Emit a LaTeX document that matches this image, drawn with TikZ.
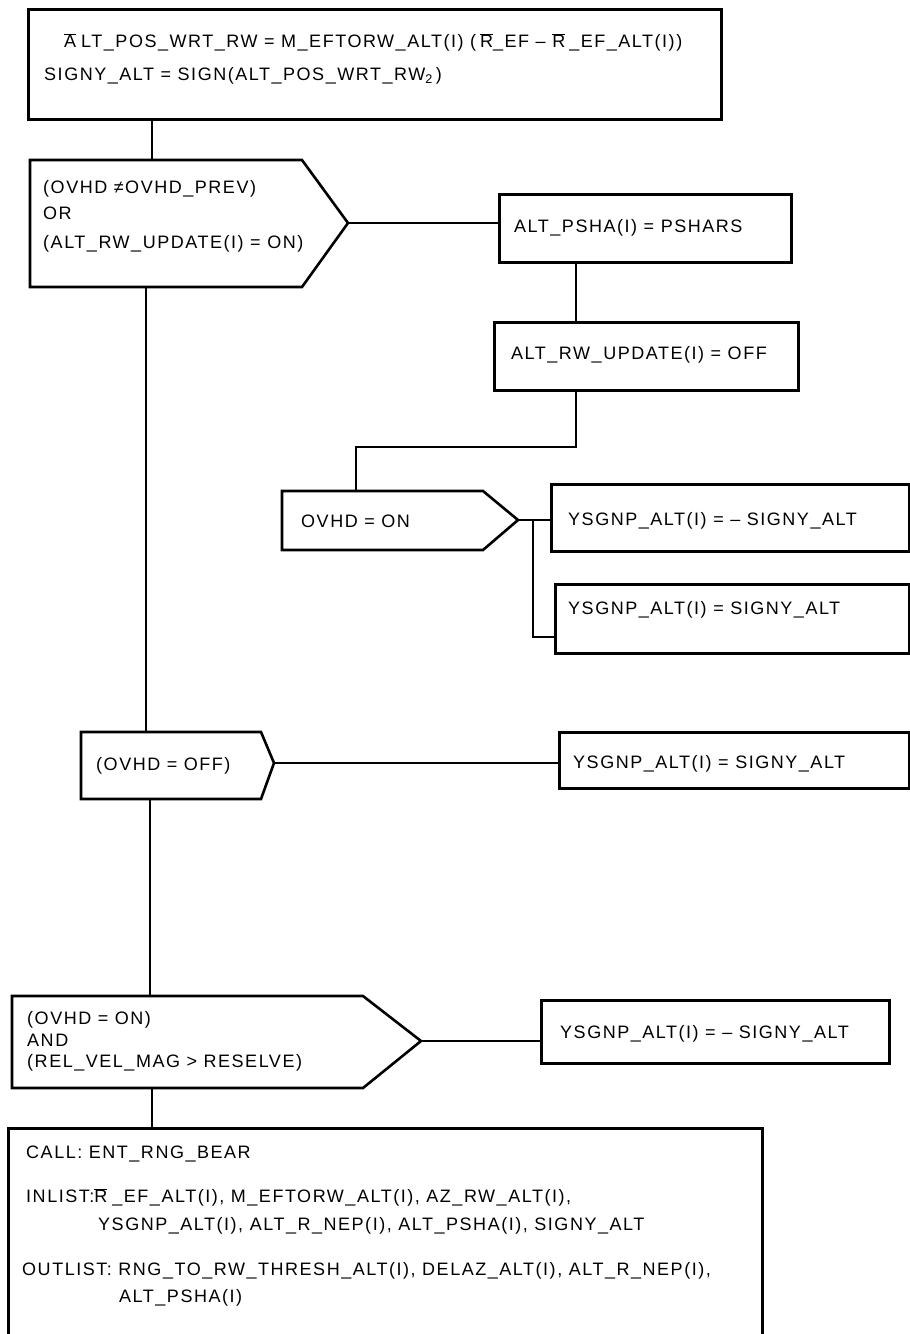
\documentclass[tikz,border=0pt]{standalone}
\usepackage{fontspec}
\setmainfont{Liberation Sans}[LetterSpace=8.5]
\newcommand\ovl[1]{\ensuremath{\overline{\mbox{#1}}}}
\begin{document}
\begin{tikzpicture}[x=1pt,y=-1pt,line join=miter,
  box/.style={draw,line width=2.6pt,inner sep=0pt,anchor=north west},
  shp/.style={draw,line width=2.6pt},
  con/.style={draw,line width=2.4pt},
  txt/.style={inner sep=0pt,anchor=west,text height=13pt,text depth=0pt,font=\fontsize{18}{21}\selectfont}]
\useasboundingbox (0,0) rectangle (910,1334);
\fill[white] (0,0) rectangle (910,1334);

% top box
\node[box,minimum width=693pt,minimum height=110pt] (top) at (27,8) {};
\node[txt] (topa) at (64,41) {\ovl{A}\hspace{5pt}LT\_POS\_WRT\_RW = M\_EFTORW\_ALT(I) (\hspace{4pt}\ovl{R}\_EF – \ovl{R}\hspace{4pt}\_EF\_ALT(I))};
\node[txt] (topb) at (44,74) {SIGNY\_ALT = SIGN(ALT\_POS\_WRT\_RW\textsubscript{2}\hspace{3pt})};

% decision 1
\coordinate (d1in) at (152,160);
\coordinate (d1tip) at (348,223);
\coordinate (d1out) at (146,287);
\draw[shp] (30,160) -- (302,160) -- (d1tip) -- (302,287) -- (30,287) -- cycle;
\node[txt] (d1a) at (43,187) {(OVHD ≠OVHD\_PREV)};
\node[txt] (d1b) at (43,213) {OR};
\node[txt] (d1c) at (43,242) {(ALT\_RW\_UPDATE(I) = ON)};
\draw[con] (d1in |- top.south) -- (d1in);

% right branch of decision 1
\node[box,minimum width=292pt,minimum height=68pt] (b1) at (498,193) {};
\node[txt] (b1t) at (514,226) {ALT\_PSHA(I) = PSHARS};
\node[box,minimum width=304pt,minimum height=68pt] (b2) at (493,321) {};
\node[txt] (b2t) at (511,353) {ALT\_RW\_UPDATE(I) = OFF};
\draw[con] (d1tip) -- (d1tip -| b1.west);
\coordinate (c1) at (576,447);
\draw[con] (c1 |- b1.south) -- (c1 |- b2.north);

% decision 2
\coordinate (d2in) at (356,491);
\coordinate (d2tip) at (518,520);
\coordinate (j1) at (356,447);
\draw[con] (c1 |- b2.south) -- (c1) -- (j1) -- (d2in);
\draw[shp] (282,491) -- (483,491) -- (d2tip) -- (483,550) -- (282,550) -- cycle;
\node[txt] (d2t) at (301,521) {OVHD = ON};
\node[box,minimum width=358pt,minimum height=67pt] (b3) at (550,483) {};
\node[txt] (b3t) at (568,519) {YSGNP\_ALT(I) = – SIGNY\_ALT};
\node[box,minimum width=354pt,minimum height=69pt] (b4) at (554,583) {};
\node[txt] (b4t) at (568,608) {YSGNP\_ALT(I) = SIGNY\_ALT};
\coordinate (j2) at (533,520);
\coordinate (j3) at (533,637);
\draw[con] (d2tip) -- (d2tip -| b3.west);
\draw[con] (j2) -- (j3) -- (j3 -| b4.west);

% decision 3
\coordinate (d3in) at (146,732);
\coordinate (d3tip) at (274,763);
\coordinate (d3out) at (150,799);
\draw[con] (d1out) -- (d3in);
\draw[shp] (81,732) -- (261,732) -- (d3tip) -- (261,799) -- (81,799) -- cycle;
\node[txt] (d3t) at (96,764) {(OVHD = OFF)};
\node[box,minimum width=350pt,minimum height=56pt] (b5) at (558,731) {};
\node[txt] (b5t) at (573,762) {YSGNP\_ALT(I) = SIGNY\_ALT};
\draw[con] (d3tip) -- (d3tip -| b5.west);

% decision 4
\coordinate (d4in) at (150,996);
\coordinate (d4tip) at (421,1041);
\coordinate (d4out) at (152,1088);
\draw[con] (d3out) -- (d4in);
\draw[shp] (12,996) -- (363,996) -- (d4tip) -- (363,1088) -- (12,1088) -- cycle;
\node[txt] (d4a) at (27,1018) {(OVHD = ON)};
\node[txt] (d4b) at (27,1040) {AND};
\node[txt] (d4c) at (27,1061) {(REL\_VEL\_MAG > RESELVE)};
\node[box,minimum width=348pt,minimum height=63pt] (b6) at (540,999) {};
\node[txt] (b6t) at (560,1032) {YSGNP\_ALT(I) = – SIGNY\_ALT};
\draw[con] (d4tip) -- (d4tip -| b6.west);

% bottom box
\node[box,minimum width=754pt,minimum height=240pt] (bb) at (7,1127) {};
\draw[con] (d4out) -- (d4out |- bb.north);
\node[txt] (bb1) at (26,1152) {CALL: ENT\_RNG\_BEAR};
\node[txt] (bb2) at (26,1196) {INLIST:\ovl{R}\hspace{5pt}\_EF\_ALT(I), M\_EFTORW\_ALT(I), AZ\_RW\_ALT(I),};
\node[txt] (bb3) at (98,1224) {YSGNP\_ALT(I), ALT\_R\_NEP(I), ALT\_PSHA(I), SIGNY\_ALT};
\node[txt] (bb4) at (22,1269) {OUTLIST: RNG\_TO\_RW\_THRESH\_ALT(I), DELAZ\_ALT(I), ALT\_R\_NEP(I),};
\node[txt] (bb5) at (119,1296) {ALT\_PSHA(I)};
\end{tikzpicture}
\end{document}
